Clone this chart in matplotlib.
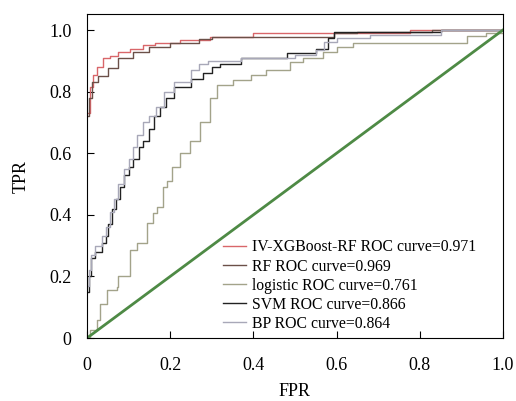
import matplotlib.pyplot as plt

plt.rcParams['font.family'] = ['Liberation Serif', 'DejaVu Serif']

# ROC curve vertices (fpr, tpr)
xgb_fpr = [0, 0.007, 0.014, 0.024, 0.038, 0.055, 0.075, 0.103, 0.135, 0.163, 0.224, 0.296, 0.399, 0.776, 1.0]
xgb_tpr = [0.73, 0.815, 0.854, 0.88, 0.91, 0.915, 0.93, 0.94, 0.952, 0.958, 0.968, 0.977, 0.99, 1.0, 1.0]

rf_fpr = [0, 0.005, 0.012, 0.026, 0.05, 0.075, 0.11, 0.15, 0.2, 0.27, 0.30, 0.595, 0.65, 0.83, 1.0]
rf_tpr = [0.72, 0.78, 0.83, 0.85, 0.877, 0.91, 0.93, 0.945, 0.958, 0.97, 0.977, 0.99, 0.995, 1.0, 1.0]

log_fpr = [0, 0.007, 0.024, 0.031, 0.048, 0.072, 0.075, 0.103, 0.12, 0.144, 0.159, 0.168, 0.183, 0.192,
           0.204, 0.224, 0.248, 0.272, 0.296, 0.313, 0.351, 0.394, 0.43, 0.488, 0.519, 0.567, 0.601,
           0.64, 0.913, 0.96, 1.0]
log_tpr = [0, 0.026, 0.06, 0.11, 0.155, 0.165, 0.2, 0.285, 0.31, 0.375, 0.405, 0.425, 0.49, 0.51,
           0.555, 0.60, 0.64, 0.70, 0.78, 0.82, 0.838, 0.854, 0.87, 0.896, 0.91, 0.93, 0.945,
           0.957, 0.98, 0.99, 1.0]

svm_fpr = [0, 0.005, 0.01, 0.02, 0.035, 0.045, 0.05, 0.06, 0.07, 0.08, 0.09, 0.1, 0.11, 0.125, 0.135,
           0.15, 0.16, 0.175, 0.19, 0.21, 0.25, 0.28, 0.30, 0.32, 0.37, 0.48, 0.55, 0.58, 0.595, 0.85, 1.0]
svm_tpr = [0.15, 0.2, 0.26, 0.28, 0.31, 0.33, 0.37, 0.42, 0.45, 0.49, 0.53, 0.555, 0.58, 0.62, 0.64,
           0.68, 0.72, 0.75, 0.78, 0.815, 0.84, 0.86, 0.88, 0.89, 0.91, 0.925, 0.94, 0.975, 0.993, 1.0, 1.0]

bp_fpr = [0, 0.005, 0.01, 0.02, 0.035, 0.045, 0.055, 0.065, 0.075, 0.09, 0.1, 0.11, 0.12, 0.135, 0.15,
          0.165, 0.185, 0.21, 0.25, 0.27, 0.29, 0.37, 0.5, 0.55, 0.57, 0.6, 0.68, 0.85, 1.0]
bp_tpr = [0.17, 0.22, 0.27, 0.30, 0.33, 0.36, 0.41, 0.45, 0.5, 0.55, 0.58, 0.62, 0.66, 0.70, 0.72,
          0.75, 0.80, 0.83, 0.87, 0.89, 0.90, 0.91, 0.92, 0.935, 0.96, 0.975, 0.985, 1.0, 1.0]

labels = ['IV-XGBoost-RF ROC curve=0.971', 'RF ROC curve=0.969', 'logistic ROC curve=0.761',
          'SVM ROC curve=0.866', 'BP ROC curve=0.864']

fig = plt.figure(figsize=(5.16, 4.01), dpi=100)
ax = fig.add_axes([0.1686, 0.157, 0.806, 0.808])

ax.step(xgb_fpr, xgb_tpr, where='post', color='#d9666a', lw=1.0, label=labels[0])
ax.step(rf_fpr, rf_tpr, where='post', color='#6b5048', lw=1.0, label=labels[1])
ax.step(log_fpr, log_tpr, where='post', color='#a3a38a', lw=1.0, label=labels[2])
ax.step(svm_fpr, svm_tpr, where='post', color='#222222', lw=1.0, label=labels[3])
ax.step(bp_fpr, bp_tpr, where='post', color='#a8a8b8', lw=1.0, label=labels[4])
ax.plot([0, 1], [0, 1], color='#4e8a45', lw=2)

ax.set_xlim(0, 1.0)
ax.set_ylim(0, 1.052)
ax.set_xticks([0, 0.2, 0.4, 0.6, 0.8, 1.0])
ax.set_xticklabels(['0', '0.2', '0.4', '0.6', '0.8', '1.0'])
ax.set_yticks([0, 0.2, 0.4, 0.6, 0.8, 1.0])
ax.set_yticklabels(['0', '0.2', '0.4', '0.6', '0.8', '1.0'])
ax.tick_params(direction='in', length=5, labelsize=13)
ax.tick_params(axis='x', pad=14)
ax.tick_params(axis='y', pad=11)
ax.set_xlabel('FPR', fontsize=13, labelpad=6)
ax.set_ylabel('TPR', fontsize=13, labelpad=14)

ax.legend(loc='lower left', bbox_to_anchor=(0.30, -0.015), frameon=False, fontsize=11.3,
          handlelength=1.5, handletextpad=0.35, labelspacing=0.2, borderaxespad=0.3)

fig.savefig('out.png', dpi=100)
